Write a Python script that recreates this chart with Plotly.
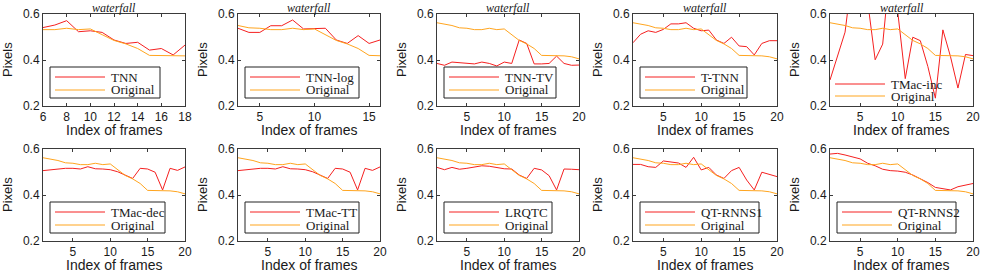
import plotly.graph_objects as go

# ---------------- data ----------------
frames = list(range(1, 21))
original = [0.562, 0.557, 0.550, 0.540, 0.538, 0.532, 0.532, 0.538, 0.532, 0.535,
            0.510, 0.485, 0.470, 0.450, 0.420, 0.420, 0.420, 0.418, 0.414, 0.405]

tnn_frames = list(range(6, 19))
tnn = [0.541, 0.552, 0.571, 0.523, 0.527, 0.520, 0.487, 0.472, 0.477, 0.443, 0.450, 0.422, 0.465]

tnn_log_frames = list(range(3, 17))
tnn_log = [0.538, 0.520, 0.520, 0.549, 0.549, 0.574, 0.535, 0.535, 0.538, 0.487, 0.472, 0.506, 0.472, 0.487]

tnn_tv = [0.385, 0.377, 0.391, 0.388, 0.388, 0.383, 0.391, 0.385, 0.374, 0.391,
          0.385, 0.487, 0.472, 0.383, 0.383, 0.385, 0.417, 0.385, 0.377, 0.378]
t_tnn = [0.475, 0.512, 0.527, 0.520, 0.533, 0.557, 0.557, 0.562, 0.538, 0.527,
         0.530, 0.487, 0.472, 0.499, 0.461, 0.458, 0.422, 0.472, 0.484, 0.484]
tmac_inc = [0.313, 0.414, 0.521, 0.784, 0.750, 0.656, 0.401, 0.469, 0.805, 0.610,
            0.319, 0.499, 0.484, 0.372, 0.234, 0.531, 0.416, 0.278, 0.424, 0.419]
tmac_dec = [0.506, 0.510, 0.513, 0.516, 0.516, 0.513, 0.523, 0.514, 0.513, 0.510,
            0.501, 0.487, 0.472, 0.516, 0.513, 0.499, 0.422, 0.516, 0.507, 0.522]
tmac_tt = [0.506, 0.510, 0.513, 0.516, 0.516, 0.513, 0.523, 0.514, 0.513, 0.510,
           0.501, 0.487, 0.472, 0.516, 0.513, 0.499, 0.422, 0.516, 0.507, 0.522]
lrqtc = [0.520, 0.510, 0.520, 0.512, 0.516, 0.520, 0.527, 0.525, 0.519, 0.514,
         0.513, 0.487, 0.472, 0.516, 0.509, 0.484, 0.422, 0.513, 0.512, 0.510]
qt_rnns1 = [0.533, 0.533, 0.523, 0.520, 0.548, 0.542, 0.539, 0.520, 0.564, 0.509,
            0.520, 0.487, 0.472, 0.506, 0.520, 0.465, 0.422, 0.499, 0.491, 0.480]
qt_rnns2 = [0.578, 0.581, 0.574, 0.567, 0.557, 0.538, 0.527, 0.512, 0.506, 0.504,
            0.499, 0.487, 0.470, 0.454, 0.433, 0.426, 0.422, 0.436, 0.443, 0.450]

method_names = ["TNN", "TNN-log", "TNN-TV", "T-TNN", "TMac-inc",
                "TMac-dec", "TMac-TT", "LRQTC", "QT-RNNS1", "QT-RNNS2"]
method_frames = [tnn_frames, tnn_log_frames, frames, frames, frames,
                 frames, frames, frames, frames, frames]
method_values = [tnn, tnn_log, tnn_tv, t_tnn, tmac_inc,
                 tmac_dec, tmac_tt, lrqtc, qt_rnns1, qt_rnns2]
x_ranges = [[6, 18], [3, 16]] + [[1, 20]] * 8
x_ticks = [[6, 8, 10, 12, 14, 16, 18], [5, 10, 15]] + [[5, 10, 15, 20]] * 8
y_ticks = [0.2, 0.4, 0.6]
y_ticklabels = ["0.2", "0.4", "0.6"]
title_text = "waterfall"
original_name = "Original"

# ---------------- layout geometry (px) ----------------
W, H = 981, 273
col_px = [(43, 185), (238, 380), (437, 579), (633, 777), (830, 973)]
row_px = [(14, 106), (149, 241)]
legend_box_w = [110, 114, 112, 107, 0, 115, 114, 108, 119, 119]

RED = "#f52020"
ORANGE = "#ffa51f"
AXC = "#3a3a3a"
TXT = "#1a1a1a"


def px_x(v):
    return v / W


def px_y(v):
    return 1 - v / H


fig = go.Figure()
shapes = []
annotations = []

for k in range(10):
    r, c = divmod(k, 5)
    x0, x1 = col_px[c]
    y0, y1 = row_px[r]
    n = k + 1
    xa = "x" if n == 1 else f"x{n}"
    ya = "y" if n == 1 else f"y{n}"

    fig.add_trace(go.Scatter(x=method_frames[k], y=method_values[k], mode="lines",
                             line=dict(color=RED, width=1), xaxis=xa, yaxis=ya,
                             showlegend=False, name=method_names[k]))
    fig.add_trace(go.Scatter(x=frames, y=original, mode="lines",
                             line=dict(color=ORANGE, width=1), xaxis=xa, yaxis=ya,
                             showlegend=False, name=original_name))

    axis_common = dict(showline=True, linecolor=AXC, linewidth=1, mirror="ticks",
                       ticks="inside", ticklen=3, tickcolor=AXC, showgrid=False,
                       zeroline=False, automargin=False,
                       tickfont=dict(family="Liberation Sans, Arial", size=12, color=TXT))
    fig.update_layout({
        f"xaxis{'' if n == 1 else n}": dict(domain=[px_x(x0), px_x(x1)], range=x_ranges[k],
                                          tickvals=x_ticks[k], anchor=ya, **axis_common),
        f"yaxis{'' if n == 1 else n}": dict(domain=[px_y(y1), px_y(y0)], range=[0.2, 0.6],
                                          tickvals=y_ticks, ticktext=y_ticklabels,
                                          anchor=xa, **axis_common),
    })

    # titles
    if r == 0:
        annotations.append(dict(text=f"<i>{title_text}</i>", x=px_x((x0 + x1) / 2), y=px_y(-1),
                                xref="paper", yref="paper", showarrow=False,
                                xanchor="center", yanchor="top",
                                font=dict(family="Liberation Serif, Times New Roman", size=12, color=TXT)))
    annotations.append(dict(text="Pixels", x=px_x(x0 - 36), y=px_y((y0 + y1) / 2),
                            xref="paper", yref="paper", showarrow=False, textangle=-90,
                            xanchor="center", yanchor="middle",
                            font=dict(family="Liberation Sans, Arial", size=13, color=TXT)))
    annotations.append(dict(text="Index of frames", x=px_x((x0 + x1) / 2), y=px_y(y1 + 24),
                            xref="paper", yref="paper", showarrow=False,
                            xanchor="center", yanchor="middle",
                            font=dict(family="Liberation Sans, Arial", size=14, color=TXT)))

    # legend (drawn manually to mimic MATLAB legend box)
    bw = legend_box_w[k]
    if bw > 0:
        bl = x0 + 7
        shapes.append(dict(type="rect", xref="paper", yref="paper", layer="above",
                           x0=px_x(bl), x1=px_x(bl + bw), y0=px_y(y0 + 53), y1=px_y(y1 - 8),
                           line=dict(color="#222", width=1), fillcolor="white"))
        ey = [y0 + 63, y0 + 76]
        ls = bl + 5
    else:
        ey = [y0 + 70, y0 + 82]
        ls = x0 + 5
    for j, (lab, col) in enumerate([(method_names[k], RED), (original_name, ORANGE)]):
        shapes.append(dict(type="line", xref="paper", yref="paper", layer="above",
                           x0=px_x(ls), x1=px_x(ls + 50), y0=px_y(ey[j]), y1=px_y(ey[j]),
                           line=dict(color=col, width=1)))
        annotations.append(dict(text=lab, x=px_x(ls + 54), y=px_y(ey[j]),
                                xref="paper", yref="paper", showarrow=False,
                                xanchor="left", yanchor="middle",
                                font=dict(family="Liberation Serif, Times New Roman", size=13, color=TXT)))

fig.update_layout(width=W, height=H, margin=dict(l=0, r=0, t=0, b=0),
                  paper_bgcolor="white", plot_bgcolor="white",
                  shapes=shapes, annotations=annotations, showlegend=False)

fig.write_html("out.html", config={"displayModeBar": False},
               post_script="document.body.style.margin='0';document.body.style.overflow='hidden';")
